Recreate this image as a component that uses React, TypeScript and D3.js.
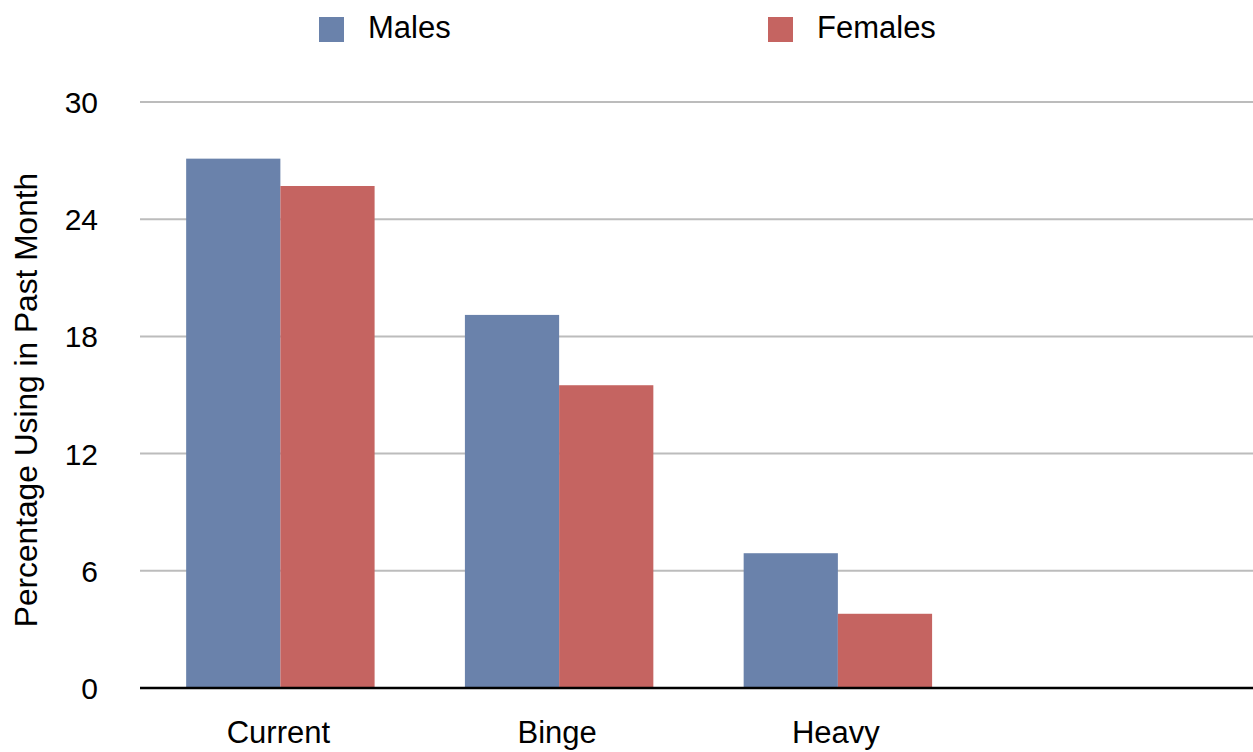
import React from "react";
import * as d3 from "d3";

const categories = ["Current", "Binge", "Heavy", ""];
const seriesNames = ["Males", "Females"];
const males = [27.1, 19.1, 6.9, null];
const females = [25.7, 15.5, 3.8, null];
const yTicks = [0, 6, 12, 18, 24, 30];
const colors = ["#6a82ab", "#c56461"];

const W = 1253;
const H = 752;
const FONT = "'Liberation Sans', Arial, Helvetica, sans-serif";

export default function App() {
  const x0 = d3
    .scaleBand<string>()
    .domain(categories.map((c, i) => String(i)))
    .range([141, 1256])
    .paddingInner(0.324)
    .paddingOuter(0.162);
  const x1 = d3.scaleBand<string>().domain(seriesNames).range([0, x0.bandwidth()]);
  const y = d3.scaleLinear().domain([0, 30]).range([688, 102]);
  const series = [males, females];

  return (
    <svg
      width={W}
      height={H}
      style={{ position: "absolute", left: 0, top: 0, background: "#fff" }}
      fontFamily={FONT}
    >
      {yTicks.map((t) => (
        <g key={t}>
          {t !== 0 && (
            <line x1={140} x2={1253} y1={y(t)} y2={y(t)} stroke="#bcbcbc" strokeWidth={2} />
          )}
          <text x={98} y={y(t) + 11} textAnchor="end" fontSize={30} fill="#000">
            {t}
          </text>
        </g>
      ))}
      {categories.map((c, i) =>
        series.map((s, j) => {
          const v = s[i];
          if (v == null) return null;
          const bx = (x0(String(i)) as number) + (x1(seriesNames[j]) as number);
          return (
            <rect
              key={`${i}-${j}`}
              x={bx}
              y={y(v)}
              width={x1.bandwidth()}
              height={y(0) - y(v)}
              fill={colors[j]}
            />
          );
        })
      )}
      <line x1={140} x2={1253} y1={y(0)} y2={y(0)} stroke="#000" strokeWidth={2.5} />
      {categories.map((c, i) => (
        <text
          key={c + i}
          x={(x0(String(i)) as number) + x0.bandwidth() / 2 - 2}
          y={743}
          textAnchor="middle"
          fontSize={31}
          fill="#000"
        >
          {c}
        </text>
      ))}
      <text
        transform="translate(37,400) rotate(-90)"
        textAnchor="middle"
        fontSize={31.7}
        fill="#000"
      >
        Percentage Using in Past Month
      </text>
      {seriesNames.map((n, j) => {
        const lx = [319, 768][j];
        return (
          <g key={n}>
            <rect x={lx} y={17} width={25} height={25} fill={colors[j]} />
            <text x={lx + 49} y={38} fontSize={31} fill="#000">
              {n}
            </text>
          </g>
        );
      })}
    </svg>
  );
}
